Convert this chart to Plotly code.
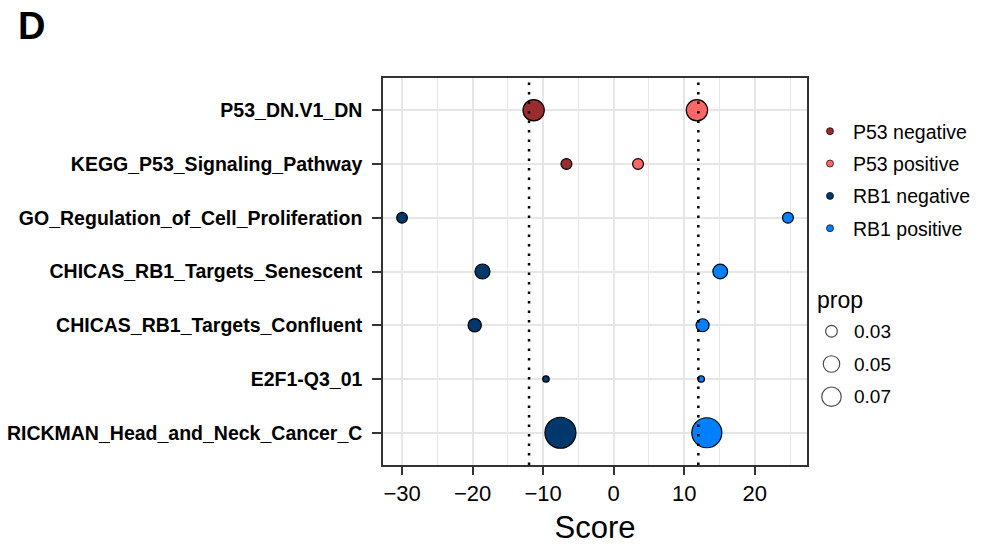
import numpy as np
import plotly.graph_objects as go

# ---------------- data ----------------
categories = [
    "P53_DN.V1_DN",
    "KEGG_P53_Signaling_Pathway",
    "GO_Regulation_of_Cell_Proliferation",
    "CHICAS_RB1_Targets_Senescent",
    "CHICAS_RB1_Targets_Confluent",
    "E2F1-Q3_01",
    "RICKMAN_Head_and_Neck_Cancer_C",
]
p53_categories = categories[:2]
rb1_categories = categories[2:]

p53_neg_score = [-11.35, -6.7]
p53_pos_score = [11.8, 3.45]
p53_neg_prop = [0.092, 0.030]
p53_pos_prop = [0.092, 0.030]

rb1_neg_score = [-30.0, -18.6, -19.7, -9.6, -7.55]
rb1_pos_score = [24.7, 15.1, 12.6, 12.4, 13.2]
rb1_neg_prop = [0.0295, 0.0464, 0.0383, 0.024, 0.21]
rb1_pos_prop = [0.030, 0.0448, 0.0371, 0.024, 0.195]

thresholds = [-12, 12]
prop_breaks = [0.03, 0.05, 0.07]
x_ticks = [-30, -20, -10, 0, 10, 20]

series_names = ["P53 negative", "P53 positive", "RB1 negative", "RB1 positive"]
series_colors = ["#9A2B2F", "#FF6666", "#00386B", "#0080FF"]

# ---------------- size scale (area palette) ----------------
PROP_LO, PROP_HI = 0.024, 0.21
SIZE_MIN, SIZE_MAX = 6.5, 31.0


def prop_to_size(p):
    p = np.asarray(p, dtype=float)
    t = np.clip((p - PROP_LO) / (PROP_HI - PROP_LO), 0, 1)
    return SIZE_MIN + (SIZE_MAX - SIZE_MIN) * np.sqrt(t)


W, H = 997, 545
FONT = "Liberation Sans"

fig = go.Figure()

series = [
    (p53_neg_score, p53_categories, p53_neg_prop),
    (p53_pos_score, p53_categories, p53_pos_prop),
    (rb1_neg_score, rb1_categories, rb1_neg_prop),
    (rb1_pos_score, rb1_categories, rb1_pos_prop),
]
for (xs, ys, ps), name, col in zip(series, series_names, series_colors):
    fig.add_trace(go.Scatter(
        x=xs, y=ys, mode="markers", name=name, showlegend=False,
        marker=dict(size=prop_to_size(ps), color=col,
                    line=dict(color="black", width=1.2), opacity=1),
        xaxis="x", yaxis="y",
    ))

# colour legend entries
for i, (name, col) in enumerate(zip(series_names, series_colors)):
    fig.add_trace(go.Scatter(
        x=[None], y=[None], mode="markers", name=name, legendgroup=f"g{i}",
        marker=dict(size=7, color=col, line=dict(color="black", width=0.7)),
        xaxis="x", yaxis="y",
    ))

# size key (drawn on an auxiliary hidden axis)
fig.add_trace(go.Scatter(
    x=[16.5] * len(prop_breaks), y=list(range(len(prop_breaks))),
    mode="markers", showlegend=False, hoverinfo="skip",
    marker=dict(size=prop_to_size(prop_breaks) + 0.8, color="white",
                line=dict(color="black", width=1.2)),
    xaxis="x2", yaxis="y2",
))
for i, b in enumerate(prop_breaks):
    fig.add_annotation(x=37, y=i, xref="x2", yref="y2", text=f"{b:.2f}",
                       showarrow=False, xanchor="left", yanchor="middle",
                       font=dict(family=FONT, size=19, color="black"))
fig.add_annotation(x=815 / W, y=1 - 300 / H, xref="paper", yref="paper",
                   text="prop", showarrow=False, xanchor="left",
                   yanchor="middle",
                   font=dict(family=FONT, size=23, color="black"))

# panel label
fig.add_annotation(x=16 / W, y=1 - 3 / H, xref="paper", yref="paper",
                   text="<b>D</b>", showarrow=False, xanchor="left",
                   yanchor="top", font=dict(family=FONT, size=38,
                                            color="black"))

for t in thresholds:
    fig.add_shape(type="line", xref="x", yref="paper", x0=t, x1=t,
                  y0=1 - 465 / H, y1=1 - 78 / H, layer="above",
                  line=dict(color="black", width=2.5, dash="2.5px,7px"))

grid = "#E6E6E6"
border = "#333333"
fig.update_layout(
    width=W, height=H,
    margin=dict(l=0, r=0, t=0, b=0),
    paper_bgcolor="white", plot_bgcolor="white",
    font=dict(family=FONT, color="black"),
    xaxis=dict(
        domain=[383 / W, 807 / W], range=[-32.7, 27.4],
        tickmode="array", tickvals=x_ticks,
        ticks="outside", ticklen=8, tickwidth=1.5, tickcolor=border,
        tickfont=dict(size=22, color="black"),
        showgrid=True, gridcolor=grid, gridwidth=1.8,
        minor=dict(dtick=5, tick0=0, showgrid=True, gridcolor=grid,
                   gridwidth=1.4),
        zeroline=False, showline=True, linecolor=border, linewidth=1.5,
        mirror=True,
        title=dict(text="Score", font=dict(size=31, color="black"),
                   standoff=13),
    ),
    yaxis=dict(
        domain=[1 - 465 / H, 1 - 78 / H],
        type="category", categoryorder="array", categoryarray=categories,
        range=[6.6, -0.6],
        ticks="outside", ticklen=9, tickwidth=1.5, tickcolor=border,
        ticklabelstandoff=6,
        tickfont=dict(size=19.5, color="black", weight="bold"),
        showgrid=True, gridcolor=grid, gridwidth=1.8,
        zeroline=False, showline=True, linecolor=border, linewidth=1.5,
        mirror=True,
    ),
    xaxis2=dict(domain=[815 / W, 1.0], range=[0, 182], visible=False,
                fixedrange=True),
    yaxis2=dict(domain=[1 - 413.1 / H, 1 - 314.9 / H], range=[2.5, -0.5],
                visible=False, fixedrange=True),
    legend=dict(x=807 / W, y=1 - 112 / H, xanchor="left", yanchor="top",
                font=dict(size=19.5, color="black"), itemwidth=36,
                tracegroupgap=4, traceorder="grouped",
                bgcolor="rgba(0,0,0,0)"),
    showlegend=True,
)

fig.write_html("out.html")
